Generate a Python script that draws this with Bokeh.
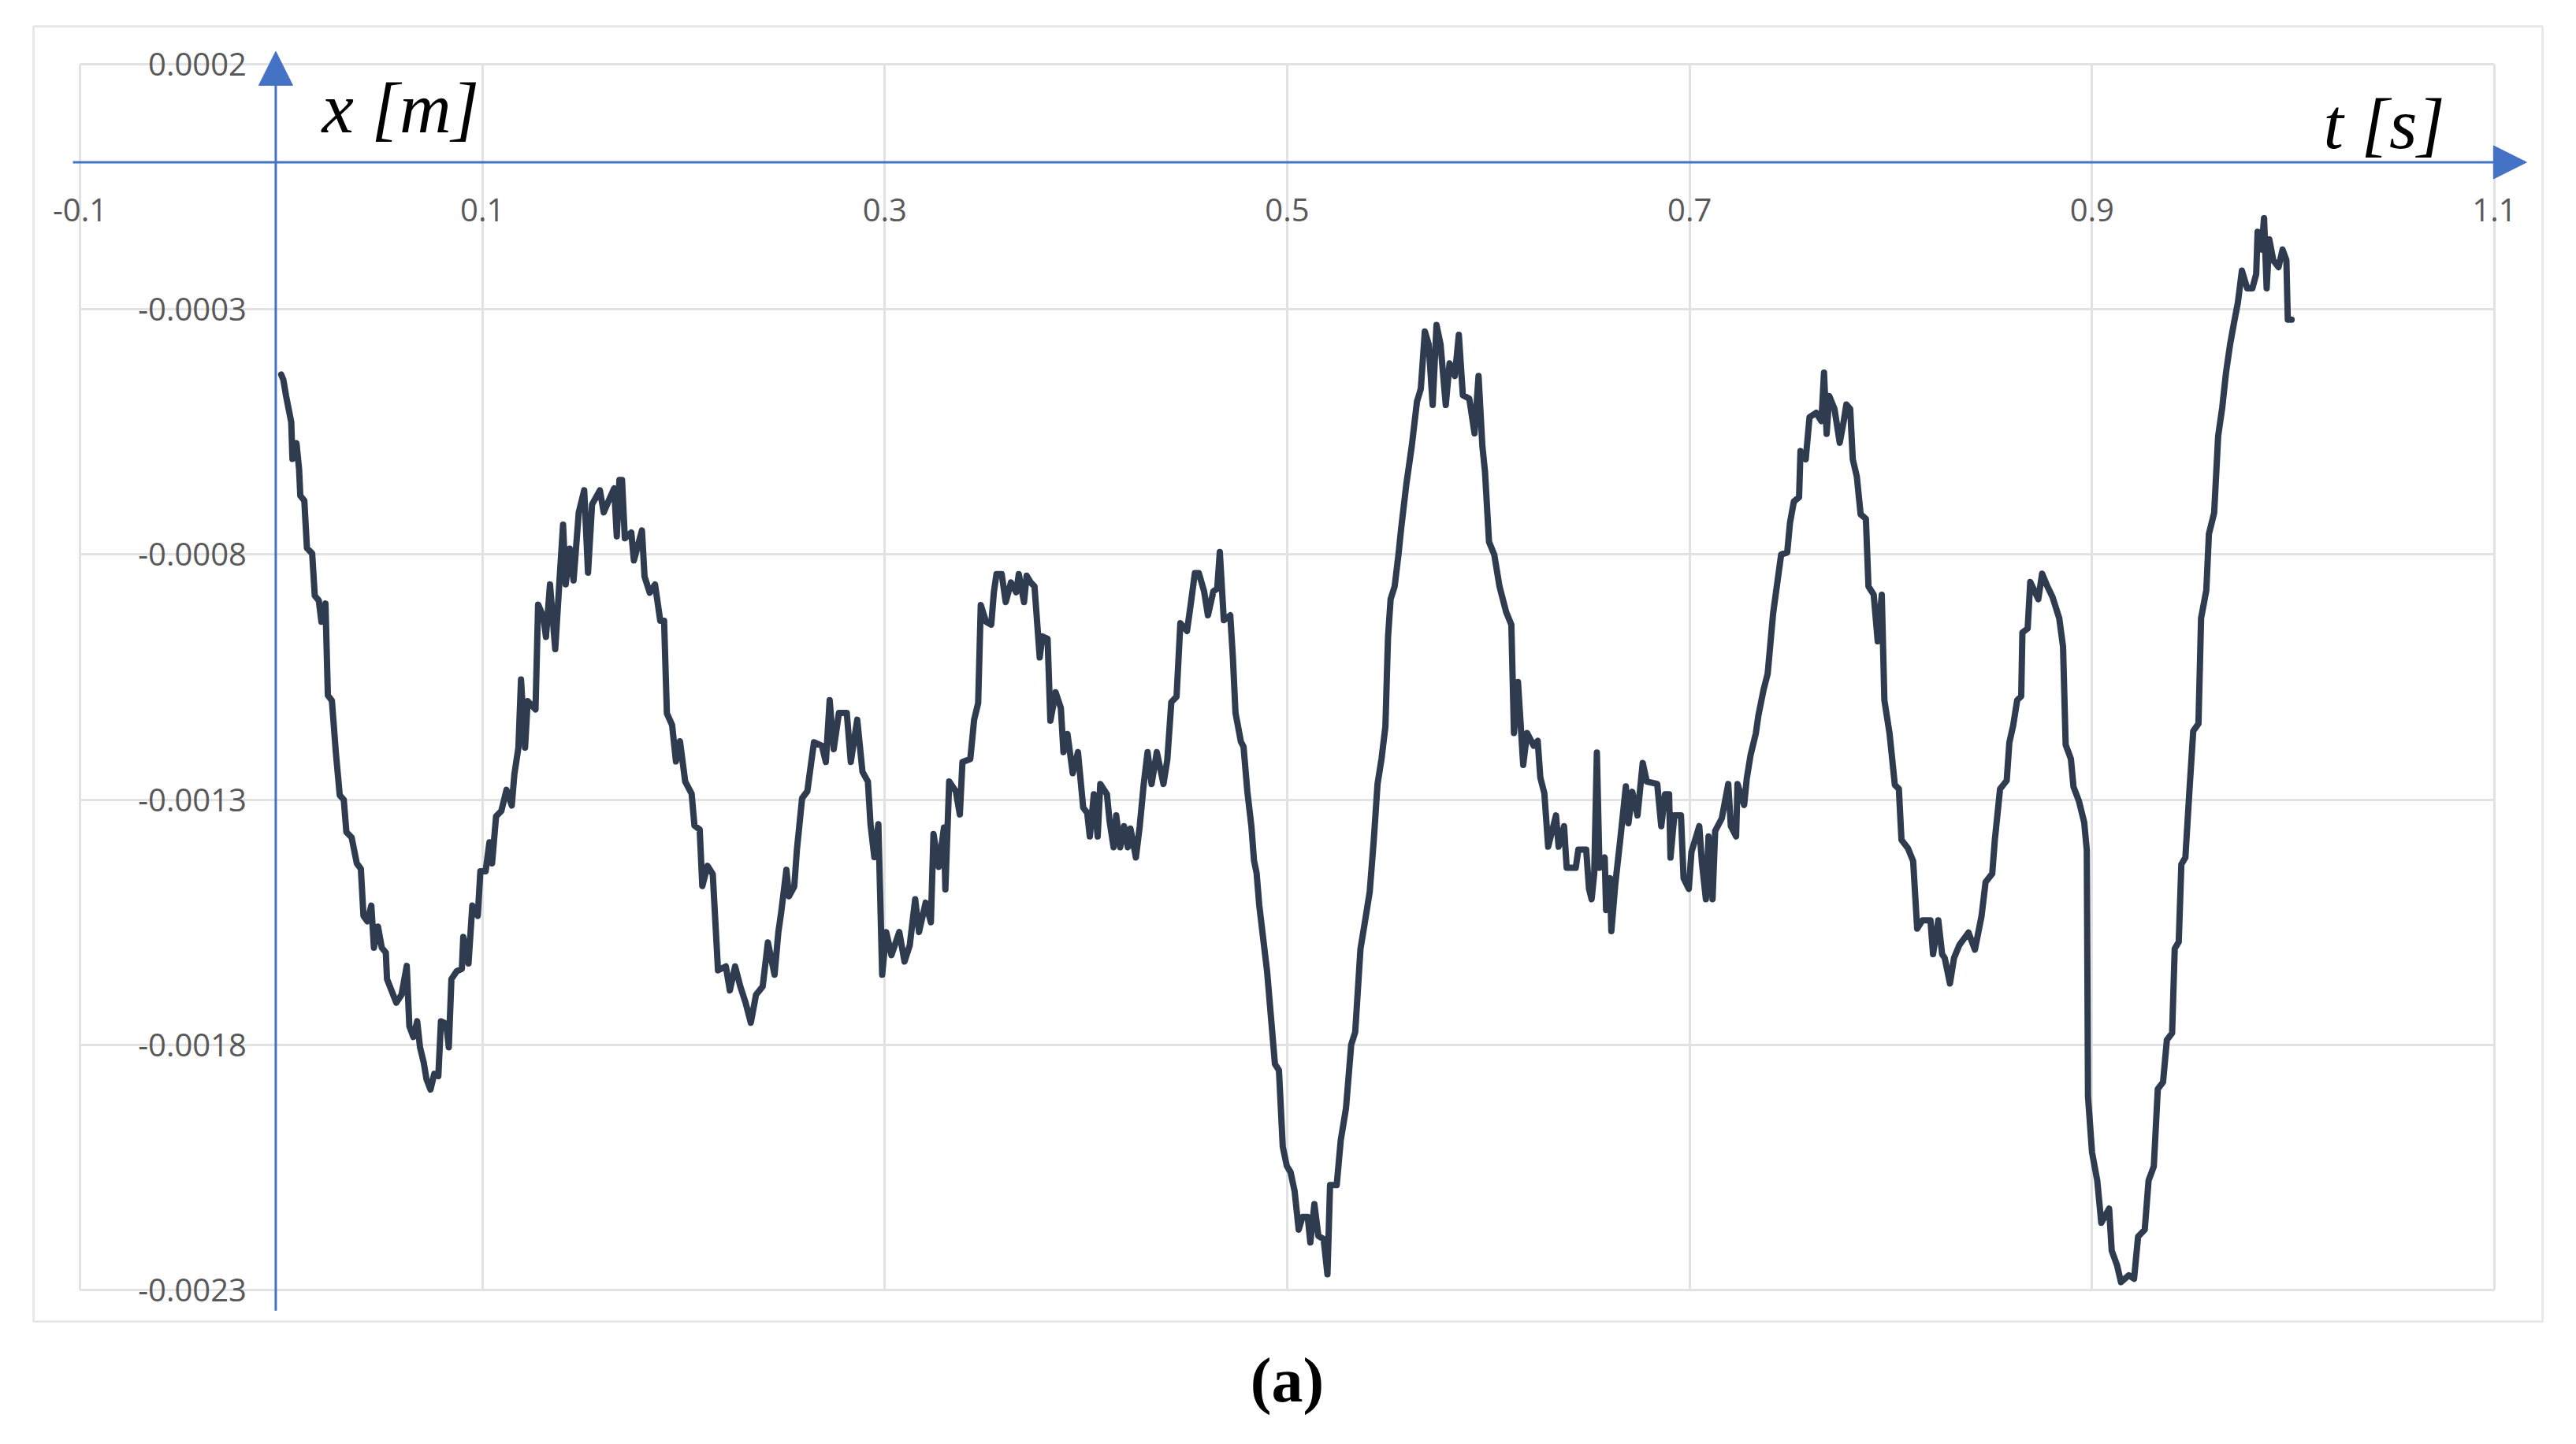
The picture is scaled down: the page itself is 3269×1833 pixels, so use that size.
from bokeh.plotting import figure
from bokeh.models import Range1d, FixedTicker, PrintfTickFormatter, Arrow, NormalHead, Label
from bokeh.embed import file_html
from bokeh.resources import INLINE

# ---- data: time t [s] and displacement x [m] ----
T_S = [
    0.0000, 0.0011, 0.0024, 0.0050, 0.0056, 0.0076, 0.0089, 0.0095, 0.0115, 0.0128,
    0.0154, 0.0167, 0.0187, 0.0200, 0.0220, 0.0232, 0.0252, 0.0272, 0.0291, 0.0311,
    0.0324, 0.0350, 0.0376, 0.0396, 0.0409, 0.0428, 0.0448, 0.0461, 0.0481, 0.0500,
    0.0520, 0.0526, 0.0552, 0.0572, 0.0598, 0.0624, 0.0637, 0.0657, 0.0676, 0.0690,
    0.0709, 0.0722, 0.0742, 0.0761, 0.0781, 0.0794, 0.0820, 0.0833, 0.0846, 0.0872,
    0.0898, 0.0905, 0.0931, 0.0950, 0.0977, 0.0990, 0.1016, 0.1035, 0.1048, 0.1068,
    0.1094, 0.1120, 0.1146, 0.1159, 0.1179, 0.1192, 0.1212,
    0.1225, 0.1264, 0.1277, 0.1303, 0.1316, 0.1336, 0.1362, 0.1382, 0.1401, 0.1414,
    0.1434, 0.1453, 0.1479, 0.1506, 0.1525, 0.1545, 0.1584, 0.1603, 0.1629, 0.1655,
    0.1668, 0.1681, 0.1694, 0.1708, 0.1740, 0.1753, 0.1793, 0.1806, 0.1832, 0.1858,
    0.1884, 0.1903, 0.1917, 0.1943, 0.1962, 0.1982, 0.2008, 0.2040, 0.2054, 0.2080,
    0.2093, 0.2119, 0.2145, 0.2171, 0.2210, 0.2230, 0.2256, 0.2282, 0.2308, 0.2334,
    0.2360, 0.2393, 0.2419,
    0.2452, 0.2471, 0.2485, 0.2511, 0.2524, 0.2550, 0.2563, 0.2589, 0.2615, 0.2628,
    0.2648, 0.2687, 0.2707, 0.2726, 0.2746, 0.2772, 0.2811, 0.2831, 0.2863, 0.2889,
    0.2916, 0.2929, 0.2948, 0.2968, 0.2987, 0.3007, 0.3033, 0.3072, 0.3098, 0.3124,
    0.3151, 0.3170, 0.3203, 0.3229, 0.3242, 0.3268, 0.3294, 0.3301, 0.3320, 0.3353,
    0.3373, 0.3386, 0.3425, 0.3444, 0.3464, 0.3477, 0.3503, 0.3529, 0.3542, 0.3555,
    0.3581, 0.3601, 0.3627, 0.3653, 0.3666, 0.3692, 0.3705, 0.3725,
    0.3744, 0.3770, 0.3783, 0.3809, 0.3823, 0.3849, 0.3875, 0.3888, 0.3908, 0.3934,
    0.3960, 0.3986, 0.4006, 0.4019, 0.4039, 0.4058, 0.4071, 0.4104, 0.4117, 0.4137,
    0.4150, 0.4170, 0.4189, 0.4208, 0.4221, 0.4248, 0.4267, 0.4287, 0.4306, 0.4326,
    0.4352, 0.4385, 0.4404, 0.4424, 0.4450, 0.4469, 0.4502, 0.4522, 0.4541, 0.4561,
    0.4587, 0.4606, 0.4633, 0.4652, 0.4665, 0.4685, 0.4717, 0.4730, 0.4743, 0.4770,
    0.4783, 0.4802, 0.4822, 0.4835, 0.4848, 0.4861, 0.4900,
    0.4939, 0.4959, 0.4978, 0.4998, 0.5017, 0.5037, 0.5057, 0.5076, 0.5102, 0.5115,
    0.5135, 0.5155, 0.5181, 0.5200, 0.5213, 0.5246, 0.5266, 0.5292, 0.5318, 0.5338,
    0.5364, 0.5390, 0.5410, 0.5430, 0.5449, 0.5469, 0.5488, 0.5501, 0.5514, 0.5534,
    0.5553, 0.5566, 0.5592, 0.5619, 0.5645, 0.5664, 0.5684, 0.5703, 0.5723, 0.5742,
    0.5762, 0.5788, 0.5807, 0.5833, 0.5853, 0.5873, 0.5905, 0.5931, 0.5951, 0.5970,
    0.5983, 0.6003, 0.6029, 0.6055, 0.6088, 0.6114, 0.6127, 0.6147, 0.6173, 0.6192,
    0.6225,
    0.6245, 0.6258, 0.6278, 0.6297, 0.6336, 0.6349, 0.6376, 0.6389, 0.6434, 0.6447,
    0.6486, 0.6500, 0.6513, 0.6526, 0.6539, 0.6552, 0.6578, 0.6585, 0.6604, 0.6611,
    0.6631, 0.6657, 0.6683, 0.6696, 0.6715, 0.6741, 0.6767, 0.6787, 0.6839, 0.6859,
    0.6878, 0.6898, 0.6905, 0.6924, 0.6957, 0.6970, 0.6996, 0.7009, 0.7048, 0.7061,
    0.7081, 0.7094, 0.7114, 0.7127, 0.7160, 0.7192, 0.7205, 0.7231, 0.7238, 0.7271,
    0.7284, 0.7303, 0.7329, 0.7342, 0.7368, 0.7388, 0.7415, 0.7455,
    0.7485, 0.7499, 0.7518, 0.7544, 0.7551, 0.7577, 0.7596, 0.7629, 0.7655, 0.7668,
    0.7681, 0.7694, 0.7720, 0.7746, 0.7766, 0.7779, 0.7798, 0.7811, 0.7831, 0.7850,
    0.7876, 0.7889, 0.7915, 0.7935, 0.7955, 0.7968, 0.7994, 0.8020, 0.8040, 0.8053,
    0.8085, 0.8111, 0.8131, 0.8157, 0.8197, 0.8210, 0.8236, 0.8255, 0.8268, 0.8294,
    0.8314, 0.8340, 0.8386, 0.8418, 0.8451, 0.8471, 0.8504, 0.8517, 0.8543, 0.8576,
    0.8589, 0.8608, 0.8628, 0.8648, 0.8654, 0.8680, 0.8693, 0.8733, 0.8752, 0.8778,
    0.8804, 0.8837, 0.8856, 0.8869, 0.8895, 0.8908, 0.8935, 0.8961, 0.8974, 0.8980,
    0.9000, 0.9026, 0.9046, 0.9085, 0.9098, 0.9124, 0.9144, 0.9183, 0.9209, 0.9229,
    0.9262, 0.9281, 0.9307, 0.9327, 0.9353, 0.9372, 0.9398, 0.9411, 0.9431, 0.9444,
    0.9464, 0.9483, 0.9503, 0.9529, 0.9542, 0.9568, 0.9581, 0.9607, 0.9627, 0.9647,
    0.9666, 0.9686, 0.9705, 0.9725, 0.9745, 0.9771, 0.9797, 0.9816, 0.9823, 0.9842,
    0.9855, 0.9868, 0.9881, 0.9901, 0.9927, 0.9947, 0.9966, 0.9973, 0.9992,
]

X_M = [
    -0.000433, -0.000444, -0.000476, -0.000530, -0.000605, -0.000573, -0.000626, -0.000680, -0.000690, -0.000787,
    -0.000798, -0.000884, -0.000894, -0.000937, -0.000900, -0.001087, -0.001098, -0.001205, -0.001291, -0.001300,
    -0.001366, -0.001377, -0.001430, -0.001441, -0.001537, -0.001548, -0.001516, -0.001602, -0.001559, -0.001602,
    -0.001612, -0.001666, -0.001693, -0.001714, -0.001698, -0.001639, -0.001762, -0.001784, -0.001752, -0.001805,
    -0.001837, -0.001870, -0.001891, -0.001859, -0.001864, -0.001752, -0.001757, -0.001805, -0.001666, -0.001650,
    -0.001645, -0.001580, -0.001634, -0.001516, -0.001537, -0.001446, -0.001446, -0.001387, -0.001430, -0.001334,
    -0.001323, -0.001280, -0.001312, -0.001248, -0.001194, -0.001055, -0.001194,
    -0.001099, -0.001116, -0.000902, -0.000927, -0.000968, -0.000861, -0.000993, -0.000861, -0.000739, -0.000861,
    -0.000788, -0.000853, -0.000714, -0.000669, -0.000837, -0.000698, -0.000669, -0.000714, -0.000689, -0.000665,
    -0.000763, -0.000648, -0.000648, -0.000767, -0.000755, -0.000812, -0.000751, -0.000845, -0.000878, -0.000861,
    -0.000935, -0.000935, -0.001124, -0.001148, -0.001222, -0.001181, -0.001263, -0.001288, -0.001353, -0.001361,
    -0.001476, -0.001435, -0.001452, -0.001648, -0.001640, -0.001689, -0.001640, -0.001681, -0.001714, -0.001755,
    -0.001698, -0.001681, -0.001591,
    -0.001657, -0.001570, -0.001530, -0.001443, -0.001497, -0.001477, -0.001403, -0.001297, -0.001283, -0.001243,
    -0.001183, -0.001190, -0.001223, -0.001097, -0.001197, -0.001123, -0.001123, -0.001223, -0.001137, -0.001243,
    -0.001263, -0.001350, -0.001417, -0.001350, -0.001657, -0.001570, -0.001617, -0.001570, -0.001630, -0.001597,
    -0.001503, -0.001570, -0.001510, -0.001550, -0.001370, -0.001437, -0.001357, -0.001483, -0.001263, -0.001283,
    -0.001330, -0.001223, -0.001217, -0.001137, -0.001103, -0.000903, -0.000937, -0.000943, -0.000877, -0.000840,
    -0.000840, -0.000897, -0.000857, -0.000877, -0.000840, -0.000897, -0.000843, -0.000857,
    -0.000865, -0.001010, -0.000967, -0.000972, -0.001139, -0.001081, -0.001113, -0.001203, -0.001166, -0.001246,
    -0.001203, -0.001316, -0.001327, -0.001375, -0.001289, -0.001375, -0.001268, -0.001289, -0.001343, -0.001397,
    -0.001332, -0.001397, -0.001354, -0.001397, -0.001359, -0.001418, -0.001354, -0.001268, -0.001203, -0.001268,
    -0.001203, -0.001268, -0.001219, -0.001101, -0.001090, -0.000940, -0.000956, -0.000897, -0.000838, -0.000838,
    -0.000875, -0.000924, -0.000875, -0.000870, -0.000795, -0.000934, -0.000924, -0.001010, -0.001123, -0.001182,
    -0.001192, -0.001284, -0.001354, -0.001424, -0.001450, -0.001515, -0.001650,
    -0.001839, -0.001852, -0.002008, -0.002047, -0.002060, -0.002099, -0.002177, -0.002151, -0.002151, -0.002203,
    -0.002125, -0.002190, -0.002196, -0.002268, -0.002086, -0.002086, -0.001995, -0.001930, -0.001800, -0.001774,
    -0.001605, -0.001540, -0.001488, -0.001384, -0.001268, -0.001216, -0.001151, -0.000969, -0.000891, -0.000865,
    -0.000800, -0.000748, -0.000657, -0.000579, -0.000488, -0.000462, -0.000345, -0.000371, -0.000495, -0.000332,
    -0.000371, -0.000495, -0.000410, -0.000436, -0.000352, -0.000475, -0.000482, -0.000553, -0.000436, -0.000579,
    -0.000631, -0.000774, -0.000800, -0.000865, -0.000917, -0.000943, -0.001164, -0.001060, -0.001229, -0.001164,
    -0.001190,
    -0.001180, -0.001255, -0.001287, -0.001396, -0.001332, -0.001396, -0.001354, -0.001439, -0.001439, -0.001402,
    -0.001402, -0.001482, -0.001503, -0.001450, -0.001204, -0.001439, -0.001418, -0.001525, -0.001460, -0.001568,
    -0.001471, -0.001375, -0.001273, -0.001348, -0.001284, -0.001332, -0.001225, -0.001263, -0.001268, -0.001354,
    -0.001289, -0.001289, -0.001418, -0.001332, -0.001332, -0.001460, -0.001482, -0.001407, -0.001354, -0.001428,
    -0.001503, -0.001375, -0.001503, -0.001364, -0.001338, -0.001268, -0.001354, -0.001375, -0.001268, -0.001311,
    -0.001257, -0.001209, -0.001165, -0.001128, -0.001075, -0.001043, -0.000920, -0.000800,
    -0.000796, -0.000735, -0.000692, -0.000683, -0.000589, -0.000606, -0.000520, -0.000511, -0.000528, -0.000429,
    -0.000554, -0.000477, -0.000503, -0.000572, -0.000528, -0.000494, -0.000503, -0.000606, -0.000641, -0.000718,
    -0.000727, -0.000865, -0.000882, -0.000977, -0.000882, -0.001097, -0.001166, -0.001270, -0.001278, -0.001382,
    -0.001399, -0.001425, -0.001563, -0.001546, -0.001546, -0.001615, -0.001546, -0.001615, -0.001623, -0.001675,
    -0.001623, -0.001597, -0.001571, -0.001606, -0.001537, -0.001468, -0.001451, -0.001382, -0.001278, -0.001261,
    -0.001184, -0.001149, -0.001097, -0.001089, -0.000959, -0.000951, -0.000856, -0.000891, -0.000839, -0.000865,
    -0.000887, -0.000930, -0.000988, -0.001188, -0.001217, -0.001274, -0.001303, -0.001346, -0.001403, -0.001905,
    -0.002019, -0.002077, -0.002163, -0.002134, -0.002220, -0.002249, -0.002284, -0.002270, -0.002277, -0.002191,
    -0.002177, -0.002077, -0.002048, -0.001890, -0.001876, -0.001790, -0.001776, -0.001604, -0.001590, -0.001432,
    -0.001418, -0.001289, -0.001160, -0.001145, -0.000930, -0.000873, -0.000758, -0.000715, -0.000558, -0.000501,
    -0.000429, -0.000372, -0.000329, -0.000286, -0.000221, -0.000257, -0.000257, -0.000228, -0.000142, -0.000178,
    -0.000114, -0.000257, -0.000157, -0.000200, -0.000214, -0.000178, -0.000200, -0.000321, -0.000321,
]

X_TICKS = [-0.1, 0.1, 0.3, 0.5, 0.7, 0.9, 1.1]
Y_TICKS = [0.0002, -0.0003, -0.0008, -0.0013, -0.0018, -0.0023]
X_TITLE = "t [s]"
Y_TITLE = "x [m]"
CAPTION = "(a)"

# ---- styling / layout ----
AXIS_BLUE = "#4472C4"
CURVE = "#2f3b4f"
GRID = "#e2e2e2"
LABEL_GRAY = "#595959"

# whole canvas in data units (frame fills the figure)
X_VIEW = (-0.139557, 1.134470)
Y_VIEW = (-0.0025892, 0.00033014)
# Excel chart-area border
CHART_AREA = dict(left=-0.12311, right=1.12390, top=0.00027712, bottom=-0.0023643)
# where the drawn axes cross, and the extents of their lines (with arrowheads)
Y_AXIS_AT = -0.0027
X_AXIS_AT = 0.0
X_AXIS_EXT = (-0.1035, 1.1160)
Y_AXIS_EXT = (-0.002342, 0.000226)

p = figure(width=3253, height=1817, output_backend="svg", toolbar_location=None,
           title_location=None,
           x_range=Range1d(*X_VIEW), y_range=Range1d(*Y_VIEW), min_border=0)
p.background_fill_color = "white"
p.border_fill_color = "white"
p.outline_line_color = None

# axes crossing near the origin (Excel style)
p.xaxis[0].fixed_location = X_AXIS_AT
p.yaxis[0].fixed_location = Y_AXIS_AT
for ax in (p.xaxis[0], p.yaxis[0]):
    ax.axis_line_color = None
    ax.major_tick_line_color = None
    ax.minor_tick_line_color = None
    ax.major_tick_in = 0
    ax.major_tick_out = 0
    ax.major_label_text_font = "Open Sans"
    ax.major_label_text_font_size = "40px"
    ax.major_label_text_color = LABEL_GRAY
p.xaxis.ticker = FixedTicker(ticks=X_TICKS)
p.yaxis.ticker = FixedTicker(ticks=Y_TICKS)
p.xaxis.formatter = PrintfTickFormatter(format="%.1f")
p.yaxis.formatter = PrintfTickFormatter(format="%.4f")
p.xaxis.major_label_standoff = 46
p.yaxis.major_label_standoff = 37

p.xgrid.ticker = FixedTicker(ticks=X_TICKS)
p.ygrid.ticker = FixedTicker(ticks=Y_TICKS)
p.xgrid.cross_bounds = (min(Y_TICKS), max(Y_TICKS))
p.ygrid.cross_bounds = (min(X_TICKS), max(X_TICKS))
p.xgrid.bounds = (min(X_TICKS), max(X_TICKS))
p.ygrid.bounds = (min(Y_TICKS), max(Y_TICKS))
for g in (p.xgrid[0], p.ygrid[0]):
    g.grid_line_color = GRID
    g.grid_line_width = 3

# chart-area border
p.quad(**CHART_AREA, fill_color=None, line_color="#e9e9e9", line_width=3, level="underlay")

# the measured signal
p.line(T_S, X_M, line_color=CURVE, line_width=8, line_join="round", line_cap="round")

# axis lines with arrowheads
p.add_layout(Arrow(end=NormalHead(size=42, fill_color=AXIS_BLUE, line_color=AXIS_BLUE),
                   x_start=X_AXIS_EXT[0], y_start=X_AXIS_AT, x_end=X_AXIS_EXT[1], y_end=X_AXIS_AT,
                   line_color=AXIS_BLUE, line_width=3))
p.add_layout(Arrow(end=NormalHead(size=43, fill_color=AXIS_BLUE, line_color=AXIS_BLUE),
                   x_start=Y_AXIS_AT, y_start=Y_AXIS_EXT[0], x_end=Y_AXIS_AT, y_end=Y_AXIS_EXT[1],
                   line_color=AXIS_BLUE, line_width=3))

# axis titles
p.add_layout(Label(x=0.0202, y=0.000110, text=Y_TITLE, text_font="Liberation Serif",
                   text_font_style="italic", text_font_size="91px", text_color="black",
                   text_baseline="alphabetic", text_align="left"))
p.add_layout(Label(x=1.0150, y=0.000078, text=X_TITLE, text_font="Liberation Serif",
                   text_font_style="italic", text_font_size="91px", text_color="black",
                   text_baseline="alphabetic", text_align="left"))

# panel caption below the chart
p.add_layout(Label(x=0.5, y=-0.0024832, text=CAPTION, text_font="Liberation Serif",
                   text_font_style="bold", text_font_size="80px", text_color="black",
                   text_baseline="middle", text_align="center"))

open("out.html", "w").write(file_html(p, INLINE))
